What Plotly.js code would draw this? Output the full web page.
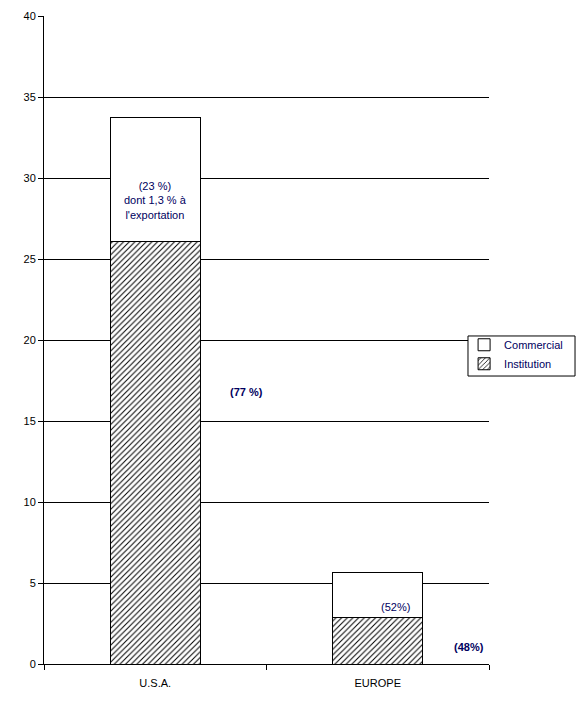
<!DOCTYPE html>
<html>
<head>
<meta charset="utf-8">
<script src="https://cdn.plot.ly/plotly-3.0.1.min.js"></script>
<style>body{margin:0;background:#fff}#chart{width:587px;height:724px}</style>
</head>
<body>
<div id="chart"></div>
<script>
const categories = ['U.S.A.', 'EUROPE'];
const institution = [26.05, 2.84];
const commercial = [7.7, 2.78];
const yTicks = [0, 5, 10, 15, 20, 25, 30, 35, 40];

const font = {family: 'Liberation Sans, Arial, sans-serif', size: 11, color: '#000'};
const noteColor = '#000060';

const data = [
  {
    type: 'bar', name: 'Institution', x: categories, y: institution,
    marker: {color: '#fff', line: {color: '#000', width: 1},
      pattern: {shape: '/', fgcolor: '#000', bgcolor: '#fff', size: 4, solidity: 0.25}},
    width: 0.405, hoverinfo: 'none'
  },
  {
    type: 'bar', name: 'Commercial', x: categories, y: commercial,
    marker: {color: '#fff', line: {color: '#000', width: 1}},
    width: 0.405, hoverinfo: 'none'
  }
];

const layout = {
  width: 587, height: 724,
  margin: {l: 44, r: 98, t: 16, b: 60},
  paper_bgcolor: '#fff', plot_bgcolor: '#fff',
  barmode: 'stack',
  font: font,
  showlegend: true,
  legend: {
    x: 0.944, xanchor: 'left', y: 0.478, yanchor: 'middle',
    borderwidth: 0, bgcolor: 'rgba(0,0,0,0)',
    traceorder: 'reversed', font: {family: font.family, size: 11, color: noteColor},
    itemwidth: 30
  },
  shapes: [
    {type: 'rect', xref: 'paper', yref: 'paper', x0: 0.9528, x1: 1.1933, y0: 0.4444, y1: 0.5062,
      line: {color: '#000', width: 1}, fillcolor: '#fff', layer: 'above'}
  ],
  xaxis: {
    type: 'category', range: [-0.5, 1.5],
    showline: true, linecolor: '#000', linewidth: 1,
    ticks: 'outside', tickson: 'boundaries', ticklen: 5, tickcolor: '#000',
    ticklabelstandoff: 9,
    showgrid: false, zeroline: false, tickfont: font, fixedrange: true
  },
  yaxis: {
    range: [0, 40], tickvals: yTicks, ticktext: yTicks.map(String),
    showline: true, linecolor: '#000', linewidth: 1,
    ticks: 'outside', ticklen: 5, tickcolor: '#000',
    showgrid: true, gridcolor: '#000', gridwidth: 1,
    zeroline: false, tickfont: font, fixedrange: true
  },
  annotations: [
    {x: 0, y: 28.6, xref: 'x', yref: 'y', text: "(23 %)<br>dont 1,3 % à<br>l'exportation",
      showarrow: false, font: {family: font.family, size: 11, color: noteColor}, align: 'center'},
    {x: 0.41, y: 16.8, xref: 'x', yref: 'y', text: '<b>(77 %)</b>',
      showarrow: false, font: {family: font.family, size: 11, color: noteColor}},
    {x: 1.08, y: 3.5, xref: 'x', yref: 'y', text: '(52%)',
      showarrow: false, font: {family: font.family, size: 11, color: noteColor}},
    {x: 1.41, y: 1.05, xref: 'x', yref: 'y', text: '<b>(48%)</b>',
      showarrow: false, font: {family: font.family, size: 11, color: noteColor}}
  ]
};

Plotly.newPlot('chart', data, layout, {displayModeBar: false, staticPlot: true});
</script>
</body>
</html>
